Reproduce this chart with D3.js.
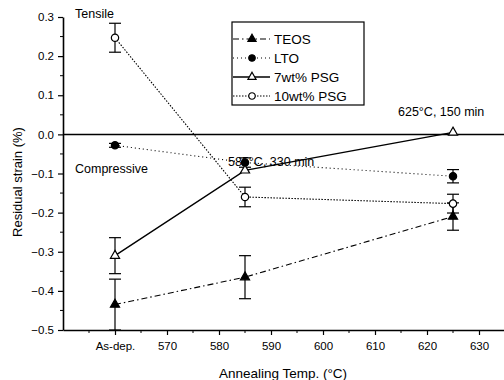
<!DOCTYPE html>
<html>
<head>
<meta charset="utf-8">
<script src="https://cdn.jsdelivr.net/npm/d3@7"></script>
<style>
  html, body { margin: 0; padding: 0; background: #fff; }
  svg { display: block; font-family: "Liberation Sans", Arial, sans-serif; }
</style>
</head>
<body>
<svg id="chart" width="504" height="380"></svg>
<script>
// Annealing temperatures (°C); 560 is the as-deposited state
const temps = [560, 585, 625];

// Residual strain (%) and error bar half-widths for each film
const teosStrain = [-0.435, -0.365, -0.21];
const teosErr    = [0.065, 0.055, 0.035];
const ltoStrain  = [-0.028, -0.072, -0.107];
const ltoErr     = [0.005, 0.012, 0.017];
const psg7Strain = [-0.31, -0.092, 0.005];
const psg7Err    = [0.046, 0.0, 0.0];
const psg10Strain = [0.247, -0.16, -0.177];
const psg10Err    = [0.037, 0.025, 0.024];

const xTickValues = [560, 570, 580, 590, 600, 610, 620, 630];
const xTickLabels = ["As-dep.", "570", "580", "590", "600", "610", "620", "630"];
const yTickValues = [0.3, 0.2, 0.1, 0.0, -0.1, -0.2, -0.3, -0.4, -0.5];

const series = [
  { name: "TEOS",      y: teosStrain,  e: teosErr,  symbol: d3.symbolTriangle, fill: "#000", dash: "6,3,1.5,3" },
  { name: "LTO",       y: ltoStrain,   e: ltoErr,   symbol: d3.symbolCircle,   fill: "#000", dash: "1,3" },
  { name: "7wt% PSG",  y: psg7Strain,  e: psg7Err,  symbol: d3.symbolTriangle, fill: "#fff", dash: null },
  { name: "10wt% PSG", y: psg10Strain, e: psg10Err, symbol: d3.symbolCircle,   fill: "#fff", dash: "1.5,1.5" }
];

const svg = d3.select("#chart");
const x = d3.scaleLinear().domain([550, 635]).range([63, 505]);
const y = d3.scaleLinear().domain([-0.5, 0.3]).range([330, 17]);

// Axes
const xAxis = d3.axisBottom(x).tickValues(xTickValues)
  .tickFormat((d, i) => xTickLabels[i]).tickSize(5).tickSizeOuter(0);
const gx = svg.append("g").attr("transform", `translate(0,${y(-0.5)})`).call(xAxis);
gx.select(".domain").attr("stroke-width", 1.6);
gx.selectAll(".tick line").attr("stroke-width", 1.2);
gx.selectAll(".tick text").attr("font-size", 11.5).attr("dy", "1.0em");

// minor x ticks
svg.append("g").selectAll("line")
  .data(d3.range(555, 635, 10))
  .join("line")
  .attr("x1", d => x(d)).attr("x2", d => x(d))
  .attr("y1", y(-0.5)).attr("y2", y(-0.5) + 3)
  .attr("stroke", "#000").attr("stroke-width", 1);

const yAxis = d3.axisLeft(y).tickValues(yTickValues)
  .tickFormat(d3.format(".1f")).tickSize(5).tickSizeOuter(0);
const gy = svg.append("g").attr("transform", `translate(${x(550)},0)`).call(yAxis);
gy.select(".domain").attr("stroke-width", 1.6);
gy.selectAll(".tick line").attr("stroke-width", 1.2);
gy.selectAll(".tick text").attr("font-size", 11.5).attr("x", -9);

// minor y ticks
svg.append("g").selectAll("line")
  .data(d3.range(-0.45, 0.3, 0.1))
  .join("line")
  .attr("x1", x(550)).attr("x2", x(550) - 3)
  .attr("y1", d => y(d)).attr("y2", d => y(d))
  .attr("stroke", "#000").attr("stroke-width", 1);

// zero strain reference line
svg.append("line")
  .attr("x1", x(550)).attr("x2", 504)
  .attr("y1", y(0)).attr("y2", y(0))
  .attr("stroke", "#000").attr("stroke-width", 1.5);

const line = d3.line().x((d, i) => x(temps[i])).y(d => y(d));

// series lines
series.forEach(s => {
  svg.append("path")
    .attr("d", line(s.y))
    .attr("fill", "none")
    .attr("stroke", "#000")
    .attr("stroke-width", s.dash ? 1.1 : 1.4)
    .attr("stroke-dasharray", s.dash);
});

// error bars
series.forEach(s => {
  const g = svg.append("g").attr("stroke", "#000").attr("stroke-width", 1.2);
  s.y.forEach((v, i) => {
    if (!s.e[i]) return;
    const cx = x(temps[i]);
    const top = y(v + s.e[i]), bot = y(v - s.e[i]);
    g.append("line").attr("x1", cx).attr("x2", cx).attr("y1", top).attr("y2", bot);
    g.append("line").attr("x1", cx - 6).attr("x2", cx + 6).attr("y1", top).attr("y2", top);
    g.append("line").attr("x1", cx - 6).attr("x2", cx + 6).attr("y1", bot).attr("y2", bot);
  });
});

// markers
const markerSize = s => (s.symbol === d3.symbolTriangle ? 36 : 42);
series.forEach(s => {
  svg.append("g").selectAll("path")
    .data(s.y)
    .join("path")
    .attr("transform", (d, i) => `translate(${x(temps[i])},${y(d)})`)
    .attr("d", d3.symbol().type(s.symbol).size(markerSize(s)))
    .attr("fill", s.fill)
    .attr("stroke", "#000")
    .attr("stroke-width", 1.2);
});

// legend
const lg = svg.append("g");
lg.append("rect")
  .attr("x", 232).attr("y", 22).attr("width", 132).attr("height", 83)
  .attr("fill", "#fff").attr("stroke", "#000").attr("stroke-width", 1.2);
series.forEach((s, i) => {
  const ly = 39 + i * 19;
  lg.append("line")
    .attr("x1", 233).attr("x2", 270).attr("y1", ly).attr("y2", ly)
    .attr("stroke", "#000").attr("stroke-width", s.dash ? 1.1 : 1.4)
    .attr("stroke-dasharray", s.dash);
  lg.append("path")
    .attr("transform", `translate(252,${ly})`)
    .attr("d", d3.symbol().type(s.symbol).size(markerSize(s) * 0.8))
    .attr("fill", s.fill).attr("stroke", "#000").attr("stroke-width", 1.2);
  lg.append("text")
    .attr("x", 274).attr("y", ly).attr("dy", "0.36em")
    .attr("font-size", 13.5).text(s.name);
});

// annotations
const notes = [
  { t: "Tensile", x: 75, y: 14 },
  { t: "Compressive", x: 75, y: 169 },
  { t: "585°C, 330 min", x: 228, y: 162 },
  { t: "625°C, 150 min", x: 398, y: 112 }
];
svg.append("g").selectAll("text")
  .data(notes).join("text")
  .attr("x", d => d.x).attr("y", d => d.y).attr("dy", "0.35em")
  .attr("font-size", 12.5).text(d => d.t);

// axis titles
svg.append("text")
  .attr("x", 283).attr("y", 373).attr("dy", "0.35em")
  .attr("text-anchor", "middle").attr("font-size", 13.5)
  .text("Annealing Temp. (°C)");
svg.append("text")
  .attr("transform", "translate(17,182) rotate(-90)")
  .attr("dy", "0.35em")
  .attr("text-anchor", "middle").attr("font-size", 13)
  .text("Residual strain (%)");
</script>
</body>
</html>
